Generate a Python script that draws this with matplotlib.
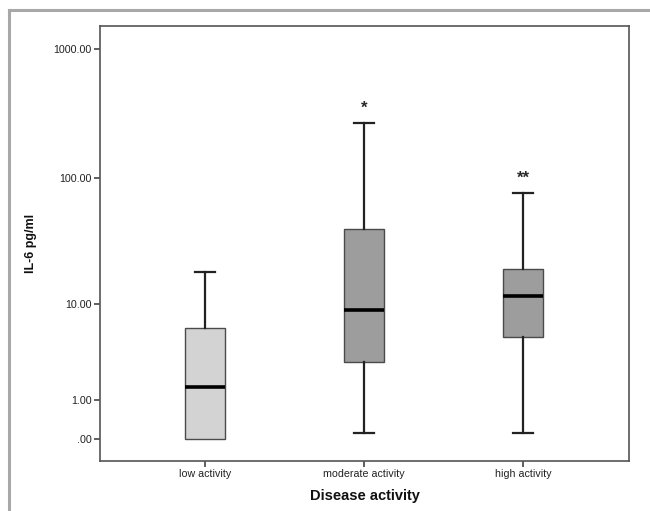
import numpy as np
import matplotlib
matplotlib.use('Agg')
import matplotlib.pyplot as plt
from matplotlib.lines import Line2D

plt.rcParams['font.family'] = ['Liberation Sans', 'DejaVu Sans']

# values (IL-6 pg/ml)
groups = ['low activity', 'moderate activity', 'high activity']
whislo = [0.0, 0.11, 0.11]
q1 = [0.0, 2.93, 5.06]
med = [1.52, 8.77, 11.65]
q3 = [6.2, 40.2, 19.2]
whishi = [18.4, 267.0, 76.6]
signif = ['', '*', '**']
box_colors = ['#d3d3d3', '#9d9d9d', '#9d9d9d']
yticks = [0, 1, 10, 100, 1000]
ytick_labels = ['.00', '1.00', '10.00', '100.00', '1000.00']


# SPSS-like log(x+1) axis
def fwd(y):
    return np.log10(np.clip(np.asarray(y, dtype=float) + 1, 1e-6, None))


def inv(f):
    return 10 ** np.asarray(f, dtype=float) - 1


fig = plt.figure(figsize=(6.5, 5.11), dpi=100)
ax = fig.add_axes([100 / 650, 50 / 511, 529 / 650, 435 / 511])

stats = []
for i in range(len(groups)):
    stats.append(dict(whislo=whislo[i], q1=q1[i], med=med[i], q3=q3[i],
                      whishi=whishi[i], fliers=[], label=groups[i]))

pos = np.arange(1, len(groups) + 1)
bp = ax.bxp(stats, positions=pos, widths=0.25, capwidths=0.125,
            patch_artist=True, showfliers=False,
            boxprops=dict(edgecolor='#4a4a4a', linewidth=1.0),
            medianprops=dict(color='black', linewidth=2.6),
            whiskerprops=dict(color='#222222', linewidth=1.6),
            capprops=dict(color='#222222', linewidth=1.6))
for patch, c in zip(bp['boxes'], box_colors):
    patch.set_facecolor(c)
# no lower whisker when it coincides with the box edge
for i in range(len(groups)):
    if whislo[i] == q1[i]:
        bp['caps'][2 * i].set_visible(False)
        bp['whiskers'][2 * i].set_visible(False)

# significance stars above whiskers
for p, top, s in zip(pos, whishi, signif):
    if s:
        ax.annotate(s, xy=(p, top), xytext=(0, 11), textcoords='offset points',
                    ha='center', va='center', fontsize=12, fontweight='bold',
                    color='#2a2a2a')

ax.set_yscale('function', functions=(fwd, inv))
ax.set_ylim(-0.323, 1501)
ax.set_xlim(0.34, 3.665)
ax.set_yticks(yticks)
ax.set_yticklabels(ytick_labels)
ax.yaxis.set_minor_locator(matplotlib.ticker.NullLocator())
ax.set_xticks(pos)
ax.set_xticklabels(groups)

ax.tick_params(direction='out', length=4, width=1.2, color='#444444',
               labelsize=7.7, labelcolor='#222222', pad=2)
for sp in ax.spines.values():
    sp.set_color('#555555')
    sp.set_linewidth(1.2)

ax.set_xlabel('Disease activity', fontsize=10.5, fontweight='bold',
              color='#111111', labelpad=7)
ax.set_ylabel('IL-6 pg/ml', fontsize=9, fontweight='bold', color='#111111')
ax.yaxis.set_label_coords(-63 / 529, 0.5)

# gray frame around the chart (top and left edges only visible)
fig.add_artist(Line2D([9 / 650, 9 / 650], [0, 1 - 10.5 / 511],
                      transform=fig.transFigure, color='#a8a8a8', lw=2.2))
fig.add_artist(Line2D([9 / 650, 1], [1 - 10.5 / 511, 1 - 10.5 / 511],
                      transform=fig.transFigure, color='#a8a8a8', lw=2.2))

fig.savefig('out.png', dpi=100)
